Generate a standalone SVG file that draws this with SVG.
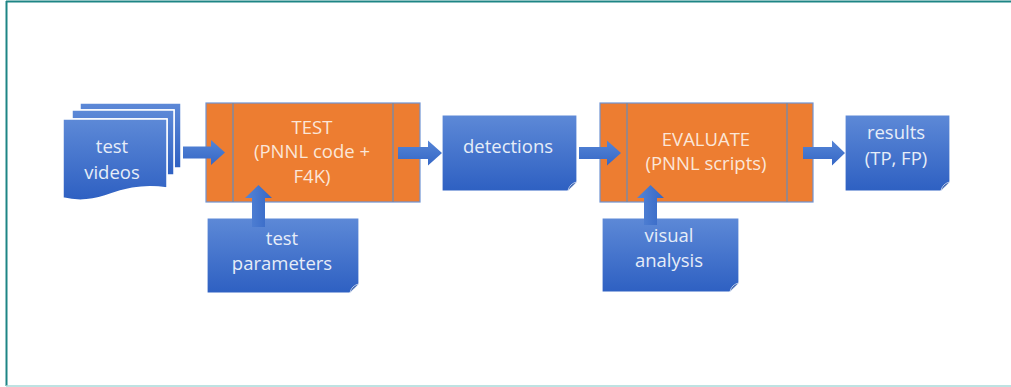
<svg xmlns="http://www.w3.org/2000/svg" width="1011" height="387" viewBox="0 0 1011 387">
<defs>
<linearGradient id="blueG" x1="0" y1="0" x2="0" y2="1">
<stop offset="0" stop-color="#5D89D7"/>
<stop offset="1" stop-color="#2E60C2"/>
</linearGradient>
<linearGradient id="arrowG" x1="0" y1="0" x2="0" y2="1">
<stop offset="0" stop-color="#5585D6"/>
<stop offset="1" stop-color="#3567C6"/>
</linearGradient>
<linearGradient id="arrowGV" x1="0" y1="0" x2="1" y2="0">
<stop offset="0" stop-color="#5585D6"/>
<stop offset="1" stop-color="#3567C6"/>
</linearGradient>
</defs>
<style>
.doc{fill:url(#blueG);stroke:#ffffff;stroke-width:1.2}
.page{fill:url(#blueG);stroke:#ffffff;stroke-width:1.5}
.curl{fill:#2A54A6;stroke:#E6ECF7;stroke-width:0.8}
.proc{fill:#ED7D31;stroke:#6F93D2;stroke-width:1.2}
.bar{stroke:#7F8AA0;stroke-width:1.5;fill:none}
.t{font-family:"Open Sans","Noto Sans",sans-serif;font-size:18.5px;text-anchor:middle}
.tb{fill:#E6EDF8}
.to{fill:#FBE6D8}
.arr{fill:url(#arrowG)}
.arrv{fill:url(#arrowGV)}
</style>
<rect x="0" y="0" width="1011" height="387" fill="#ffffff"/>
<g id="frame">
<line x1="6" y1="1.5" x2="1011" y2="1.5" stroke="#1E8585" stroke-width="2"/>
<line x1="6.5" y1="1" x2="6.5" y2="386" stroke="#1E8585" stroke-width="2"/>
<line x1="6" y1="386" x2="1011" y2="386" stroke="#A8D8D8" stroke-width="1.5"/>
</g>
<g id="test-videos">
<path class="page" d="M80,103 H181 V168 C177,168 176,168 174,168 V110 H80 Z"/>
<path class="page" d="M72,110 H174 V175 C171,175 169,175 167,175 V119 H72 Z"/>
<path class="page" d="M63,119 H167 V188 C140,184 122,190 105,196 C90,201 75,201 63,198 Z"/>
<text class="t tb" x="112" y="153">test</text>
<text class="t tb" x="112" y="179">videos</text>
</g>
<g id="test">
<rect class="proc" x="206" y="103" width="214" height="99"/>
<line class="bar" x1="233" y1="103" x2="233" y2="202"/>
<line class="bar" x1="393" y1="103" x2="393" y2="202"/>
<text class="t to" x="312" y="134">TEST</text>
<text class="t to" x="312" y="158">(PNNL code +</text>
<text class="t to" x="312" y="183">F4K)</text>
</g>
<g id="test-parameters">
<path class="doc" d="M207,218 H359 V284 L350,293 H207 Z"/>
<path class="curl" d="M350,293 C351,288 354,285 359,284 C356,287 353,289 350,293 Z"/>
<text class="t tb" x="282" y="245">test</text>
<text class="t tb" x="282" y="270">parameters</text>
</g>
<g id="detections">
<path class="doc" d="M442,115 H577 V182 L568,191 H442 Z"/>
<path class="curl" d="M568,191 C569,186 572,183 577,182 C574,185 571,187 568,191 Z"/>
<text class="t tb" x="508" y="153">detections</text>
</g>
<g id="evaluate">
<rect class="proc" x="600" y="103" width="213" height="99"/>
<line class="bar" x1="627" y1="103" x2="627" y2="202"/>
<line class="bar" x1="787" y1="103" x2="787" y2="202"/>
<text class="t to" x="706" y="146">EVALUATE</text>
<text class="t to" x="706" y="170">(PNNL scripts)</text>
</g>
<g id="visual-analysis">
<path class="doc" d="M602,218 H739 V283 L730,292 H602 Z"/>
<path class="curl" d="M730,292 C731,287 734,284 739,283 C736,286 733,288 730,292 Z"/>
<text class="t tb" x="669" y="242">visual</text>
<text class="t tb" x="669" y="267">analysis</text>
</g>
<g id="results">
<path class="doc" d="M845,115 H950 V182 L941,191 H845 Z"/>
<path class="curl" d="M941,191 C942,186 945,183 950,182 C947,185 944,187 941,191 Z"/>
<text class="t tb" x="896" y="139">results</text>
<text class="t tb" x="896" y="165">(TP, FP)</text>
</g>
<g id="connectors">
<path class="arr" d="M183,146.5 H211 V140 L225,152.5 L211,165 V158.5 H183 Z"/>
<path class="arr" d="M398,147 H428 V140.5 L442,153 L428,165.5 V159 H398 Z"/>
<path class="arr" d="M579,147 H607 V140.5 L621,153 L607,165.5 V159 H579 Z"/>
<path class="arr" d="M803,147 H832 V140.5 L845,153 L832,165.5 V159 H803 Z"/>
<path class="arrv" d="M252,227 V198 H245 L258.5,185 L272,198 H265 V227 Z"/>
<path class="arrv" d="M644,225 V198 H637 L650.5,185 L664,198 H657 V225 Z"/>
</g>
</svg>
